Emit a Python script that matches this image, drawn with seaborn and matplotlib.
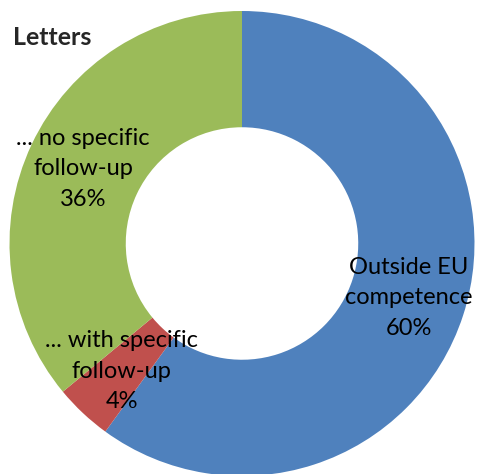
import matplotlib
matplotlib.use("Agg")
import matplotlib.pyplot as plt
import seaborn as sns

# 数据
categories = ["Outside EU\ncompetence", "... with specific\nfollow-up", "... no specific\nfollow-up"]
shares = [60, 4, 36]
colors = ["#4F81BD", "#C0504D", "#9BBB59"]

sns.set_theme(style="white")
plt.rcParams["font.family"] = ["Lato", "DejaVu Sans"]

fig = plt.figure(figsize=(4.79, 4.74), dpi=100)
ax = fig.add_axes([0, 0, 1, 1])

labels = [f"{c}\n{v}%" for c, v in zip(categories, shares)]
wedges, texts = ax.pie(shares, labels=labels, colors=sns.color_palette(colors),
                       startangle=90, counterclock=False, radius=1.0,
                       labeldistance=0.755,
                       wedgeprops=dict(width=0.5, linewidth=0))
for t in texts:
    t.set_ha("center")
    t.set_va("center")
    t.set_fontsize(17)
    t.set_linespacing(1.56)
    t.set_color("black")

ax.set_xlim(-1.0409, 1.0194)
ax.set_ylim(-0.9914, 1.0473)
ax.set_aspect("auto")
ax.axis("off")

fig.text(0.027, 0.921, "Letters", fontsize=18, fontweight="bold", ha="left", va="center")

fig.savefig("out.png", dpi=100)
